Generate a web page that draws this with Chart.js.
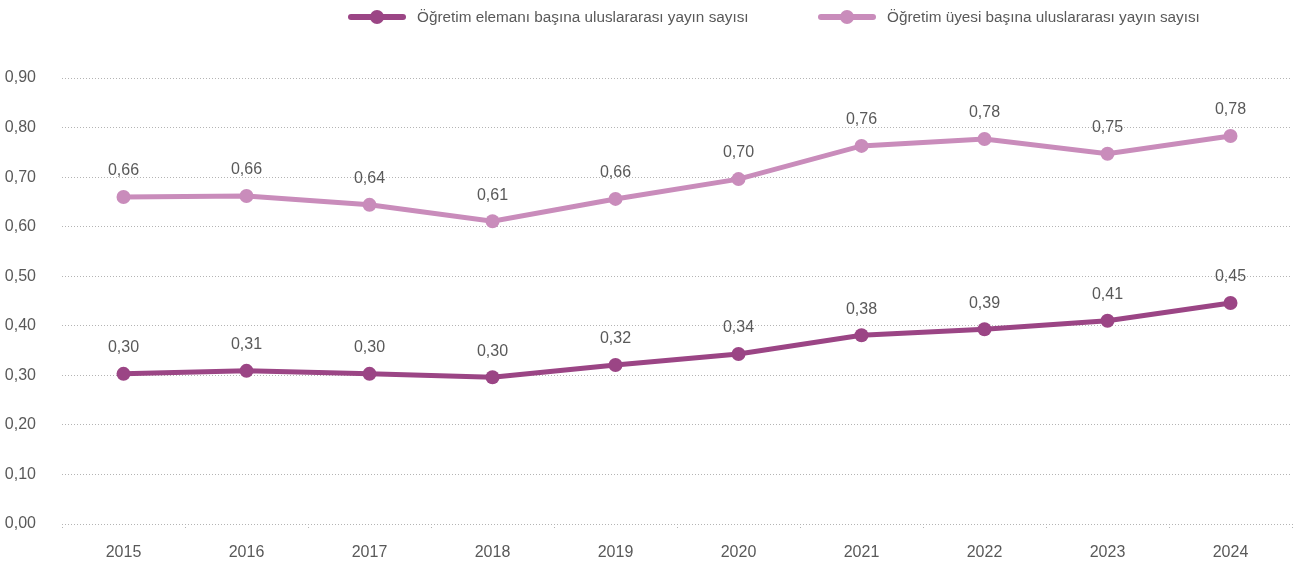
<!DOCTYPE html>
<html>
<head>
<meta charset="utf-8">
<script src="https://cdn.jsdelivr.net/npm/chart.js@4.4.1/dist/chart.umd.min.js"></script>
<style>
  html, body { margin: 0; padding: 0; background: #fff; }
  #wrap { position: relative; width: 1301px; height: 564px; }
  #legend { position: absolute; top: 8px; left: 0; width: 1301px; height: 24px; font-family: 'Liberation Sans Narrow', 'Arial Narrow', sans-serif; font-size: 15.3px; color: #595959; }
  .lg { position: absolute; top: 0; display: flex; align-items: center; white-space: nowrap; }
  .sw { position: relative; width: 58px; height: 6px; border-radius: 3px; margin-right: 11px; }
  .sw span { position: absolute; left: 22px; top: -4px; width: 14px; height: 14px; border-radius: 50%; }
</style>
</head>
<body>
<div id="wrap">
  <div id="legend">
    <div class="lg" style="left:348px"><div class="sw" style="background:#9b4585"><span style="background:#9b4585"></span></div>Öğretim elemanı başına uluslararası yayın sayısı</div>
    <div class="lg" style="left:818px"><div class="sw" style="background:#c98cbb"><span style="background:#c98cbb"></span></div>Öğretim üyesi başına uluslararası yayın sayısı</div>
  </div>
  <canvas id="c" width="1301" height="564"></canvas>
</div>
<script>
// --- Data ---
const years = ['2015', '2016', '2017', '2018', '2019', '2020', '2021', '2022', '2023', '2024'];
const elemanValues = [0.303, 0.309, 0.303, 0.296, 0.321, 0.343, 0.381, 0.393, 0.410, 0.446];
const uyeValues = [0.660, 0.662, 0.644, 0.611, 0.656, 0.696, 0.763, 0.777, 0.747, 0.783];
const seriesNames = ['Öğretim elemanı başına uluslararası yayın sayısı', 'Öğretim üyesi başına uluslararası yayın sayısı'];

const FONT = "'Liberation Sans Narrow', 'Arial Narrow', sans-serif";
const textColor = '#595959';
const gridColor = '#b4b4b4';

const fmt = v => (Math.round(v * 100) / 100).toFixed(2).replace('.', ',');

// value labels above each point
const pointLabels = {
    id: 'pointLabels',
    afterDatasetsDraw(chart) {
        const ctx = chart.ctx;
        ctx.save();
        ctx.font = '16px ' + FONT;
        ctx.fillStyle = textColor;
        ctx.textAlign = 'center';
        ctx.textBaseline = 'bottom';
        chart.data.datasets.forEach((ds, i) => {
            chart.getDatasetMeta(i).data.forEach((pt, j) => {
                ctx.fillText(fmt(ds.data[j]), pt.x, pt.y - 18);
            });
        });
        ctx.restore();
    }
};

new Chart(document.getElementById('c'), {
    type: 'line',
    data: {
        labels: years,
        datasets: [
            { label: seriesNames[0], data: elemanValues, borderColor: '#9b4585', backgroundColor: '#9b4585', borderWidth: 5, pointRadius: 7, pointHoverRadius: 7, pointBorderWidth: 0 },
            { label: seriesNames[1], data: uyeValues, borderColor: '#c98cbb', backgroundColor: '#c98cbb', borderWidth: 5, pointRadius: 7, pointHoverRadius: 7, pointBorderWidth: 0 }
        ]
    },
    options: {
        responsive: false,
        animation: false,
        layout: { padding: { top: 78, right: 9, left: 0, bottom: 0 } },
        plugins: { legend: { display: false }, tooltip: { enabled: false } },
        scales: {
            x: {
                offset: true,
                afterFit: s => { s.height = 40; },
                grid: { offset: true, drawOnChartArea: false, drawTicks: true, tickLength: 6, color: gridColor, tickBorderDash: [1, 2], tickColor: gridColor },
                border: { display: false },
                ticks: { color: textColor, font: { family: FONT, size: 16 }, padding: 13 }
            },
            y: {
                min: 0, max: 0.9,
                afterFit: s => { s.width = 62; },
                grid: { color: gridColor, drawTicks: false, lineWidth: 1 },
                border: { display: false, dash: [1, 2] },
                ticks: { stepSize: 0.1, color: textColor, font: { family: FONT, size: 16 }, padding: 26, callback: v => fmt(v) }
            }
        }
    },
    plugins: [pointLabels]
});
</script>
</body>
</html>
